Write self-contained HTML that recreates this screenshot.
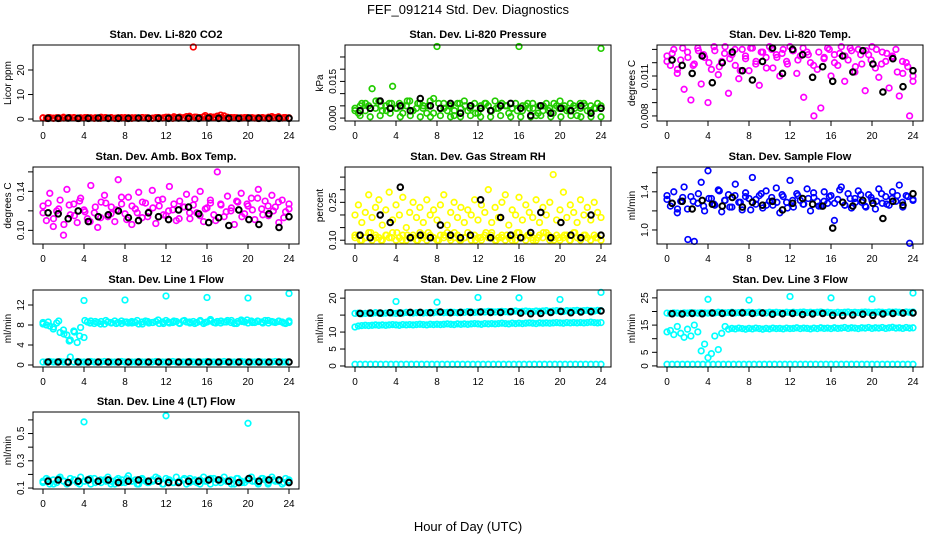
<!DOCTYPE html>
<html><head><meta charset="utf-8"><style>
html,body{margin:0;padding:0;background:#fff}
svg{display:block;font-family:"Liberation Sans",sans-serif}
</style></head><body>
<svg id="chart" width="936" height="540" viewBox="0 0 936 540">
<text x="468" y="14" text-anchor="middle" font-size="13">FEF_091214  Std. Dev. Diagnostics</text>
<text x="468" y="531" text-anchor="middle" font-size="13">Hour of Day (UTC)</text>
</svg>
<script>
const xTicks=[0,4,8,12,16,20,24];
// CO2
const co2Red=[0.5,0.3,0.6,0.4,0.5,0.3,0.7,0.4,0.5,0.6,0.3,0.5,0.4,0.6,0.5,0.3,0.4,0.7,0.5,0.4,0.6,0.3,0.5,0.4,0.6,0.5,0.3,0.5,0.4,0.6,0.5,0.4,0.3,0.6,0.5,0.4,0.7,0.5,0.3,0.6,0.8,0.5,1.0,0.6,29.4,0.7,0.5,0.9,0.6,0.5,0.8,1.2,1.6,1.3,0.7,0.5,0.6,0.4,0.5,0.6,0.3,0.5,0.4,0.6,0.5,0.4,0.7,1.0,0.6,0.5,0.4,0.6,0.5];
const co2Red2=[0.4,0.6,0.3,0.5,0.4,0.6,0.5,0.3,0.6,0.4,0.5,0.3,0.6,0.5,0.4,0.6,0.3,0.5,0.4,0.6,0.5,0.4,0.6,0.5,0.7,0.9,0.6,0.5,1.1,0.8,0.6,1.4,0.9,0.6,0.5,0.4,0.6,0.5,0.4,0.6,0.5,0.3,0.6,0.4,0.5,0.9,0.6,0.4];
const co2Black=[0.3,0.3,0.4,0.3,0.3,0.4,0.3,0.3,0.3,0.4,0.3,0.3,0.3,0.4,0.3,0.3,0.4,0.3,0.3,0.3,0.4,0.3,0.3,0.3,0.3];
// Pressure
const presGreen=[0.004,0.002,0.006,0.003,0.005,0.012,0.004,0.007,0.003,0.005,0.006,0.013,0.004,0.006,0.002,0.005,0.007,0.003,0.004,0.006,0.005,0.002,0.007,0.008,0.0293,0.004,0.006,0.003,0.005,0.001,0.006,0.004,0.007,0.003,0.005,0.006,0.002,0.004,0.006,0.005,0.003,0.007,0.004,0.006,0.005,0.002,0.004,0.006,0.0293,0.003,0.005,0.004,0.006,0.001,0.005,0.003,0.006,0.004,0.002,0.005,0.007,0.004,0.003,0.006,0.005,0.001,0.004,0.006,0.003,0.005,0.004,0.006,0.0285];
const presGreen2=[0.003,0.005,0.006,0.004,0.007,0.005,0.003,0.006,0.004,0.005,0.007,0.003,0.006,0.004,0.005,0.002,0.006,0.004,0.005,0.003,0.006,0.005,0.004,0.002,0.005,0.006,0.003,0.004,0.006,0.005,0.004,0.003,0.005,0.006,0.004,0.002,0.005,0.003,0.006,0.004,0.005,0.003,0.004,0.006,0.005,0.003,0.004,0.005];
const presGreenLow=[0.001,0.0005,0.001,0.002,0.0005,0.001,0.0005,0.0005,0.001,0.0005,0.0005,0.001,0.0005,0.0005,0.001,0.0005,0.0005,0.0005,0.001,0.0005,0.0005,0.001,0.0005,0.0005,0.0005];
const presBlack=[0.003,0.004,0.007,0.004,0.005,0.003,0.008,0.005,0.004,0.006,0.002,0.005,0.004,0.003,0.005,0.006,0.004,0.001,0.005,0.002,0.004,0.003,0.005,0.002,0.004];
// Li-820 temp
const tempMag=[0.0125,0.0118,0.0130,0.0112,0.0122,0.0100,0.0128,0.0092,0.0119,0.0131,0.0104,0.0124,0.0090,0.0115,0.0129,0.0111,0.0121,0.0132,0.0097,0.0126,0.0118,0.0108,0.0130,0.0123,0.0114,0.0131,0.0119,0.0103,0.0128,0.0124,0.0132,0.0116,0.0126,0.0110,0.0130,0.0121,0.0132,0.0129,0.0112,0.0125,0.0094,0.0128,0.0120,0.0080,0.0115,0.0086,0.0124,0.0131,0.0110,0.0126,0.0118,0.0132,0.0106,0.0122,0.0129,0.0113,0.0130,0.0119,0.0099,0.0126,0.0132,0.0116,0.0109,0.0128,0.0121,0.0101,0.0125,0.0130,0.0095,0.0112,0.0120,0.0080,0.0106];
const tempMag2=[0.0121,0.0127,0.0115,0.0131,0.0124,0.0118,0.0129,0.0126,0.0120,0.0132,0.0117,0.0127,0.0123,0.0130,0.0114,0.0125,0.0131,0.0121,0.0128,0.0116,0.0130,0.0124,0.0127,0.0119,0.0129,0.0122,0.0131,0.0126,0.0118,0.0128,0.0123,0.0130,0.0120,0.0127,0.0125,0.0131,0.0117,0.0126,0.0129,0.0122,0.0130,0.0119,0.0127,0.0124,0.0113,0.0121,0.0117,0.0110];
const tempBlack=[0.0122,0.0118,0.0112,0.0125,0.0105,0.0120,0.0128,0.0114,0.0107,0.0121,0.0131,0.0112,0.0130,0.0126,0.0109,0.0117,0.0106,0.0125,0.0113,0.0129,0.0119,0.0098,0.0123,0.0102,0.0114];
// Amb box temp
const ambMag=[0.125,0.110,0.138,0.104,0.120,0.131,0.095,0.142,0.116,0.127,0.108,0.133,0.121,0.112,0.146,0.118,0.103,0.129,0.136,0.114,0.124,0.109,0.152,0.127,0.117,0.134,0.106,0.122,0.139,0.113,0.128,0.119,0.141,0.107,0.125,0.132,0.115,0.145,0.121,0.110,0.130,0.124,0.137,0.112,0.126,0.118,0.140,0.109,0.123,0.131,0.116,0.160,0.127,0.114,0.135,0.120,0.106,0.129,0.138,0.117,0.125,0.133,0.111,0.142,0.122,0.130,0.115,0.136,0.124,0.108,0.131,0.119,0.127];
const ambMag2=[0.118,0.128,0.112,0.122,0.106,0.126,0.115,0.130,0.119,0.109,0.124,0.113,0.128,0.117,0.121,0.134,0.111,0.125,0.118,0.129,0.114,0.123,0.131,0.116,0.120,0.127,0.112,0.124,0.118,0.132,0.115,0.122,0.128,0.110,0.126,0.119,0.123,0.130,0.114,0.127,0.121,0.133,0.116,0.125,0.120,0.129,0.113,0.122];
const ambBlack=[0.118,0.117,0.112,0.120,0.109,0.114,0.116,0.120,0.113,0.110,0.118,0.114,0.111,0.121,0.124,0.117,0.108,0.113,0.105,0.121,0.111,0.106,0.117,0.103,0.114];
// RH
const rhLow=[0.11,0.12,0.10,0.11,0.13,0.10,0.12,0.11,0.10,0.12,0.11,0.13,0.10,0.11,0.12,0.10,0.11,0.12,0.10,0.13,0.11,0.10,0.12,0.11,0.10,0.12,0.11,0.13,0.10,0.11,0.12,0.10,0.11,0.13,0.10,0.12,0.11,0.10,0.12,0.11,0.13,0.10,0.11,0.12,0.10,0.11,0.12,0.10,0.13,0.11,0.10,0.12,0.11,0.10,0.12,0.11,0.13,0.10,0.11,0.12,0.10,0.11,0.12,0.10,0.13,0.11,0.10,0.12,0.11,0.10,0.12,0.11,0.10];
const rhLow2=[0.12,0.10,0.11,0.13,0.11,0.10,0.12,0.11,0.13,0.10,0.12,0.11,0.10,0.12,0.13,0.11,0.10,0.12,0.11,0.13,0.10,0.11,0.12,0.10,0.11,0.13,0.12,0.10,0.11,0.12,0.10,0.13,0.11,0.12,0.10,0.11,0.13,0.12,0.10,0.11,0.12,0.10,0.13,0.11,0.12,0.10,0.11,0.12];
const rhHigh=[0.20,0.24,0.17,0.21,0.28,0.19,0.23,0.26,0.16,0.22,0.29,0.18,0.24,0.20,0.27,0.15,0.21,0.25,0.19,0.23,0.17,0.26,0.20,0.22,0.18,0.24,0.28,0.16,0.21,0.25,0.19,0.23,0.17,0.22,0.20,0.26,0.18,0.24,0.21,0.30,0.17,0.23,0.19,0.25,0.28,0.16,0.22,0.20,0.27,0.18,0.24,0.21,0.19,0.26,0.17,0.23,0.20,0.25,0.36,0.18,0.22,0.29,0.19,0.24,0.21,0.17,0.26,0.20,0.23,0.18,0.25,0.21,0.19];
const rhBlack=[0.12,0.11,0.20,0.17,0.31,0.11,0.12,0.11,0.16,0.12,0.11,0.12,0.26,0.11,0.19,0.12,0.11,0.13,0.21,0.11,0.17,0.12,0.11,0.20,0.12];
// Sample flow
const flowBlue=[1.32,1.25,1.40,1.18,1.30,1.45,1.22,1.35,0.88,1.28,1.50,1.20,1.62,1.33,1.26,1.42,1.19,1.31,1.37,1.24,1.48,1.29,1.21,1.39,1.33,1.55,1.27,1.36,1.23,1.41,1.30,1.26,1.44,1.18,1.35,1.29,1.52,1.24,1.38,1.31,1.27,1.43,1.20,1.34,1.30,1.25,1.40,1.28,1.36,1.10,1.32,1.45,1.26,1.38,1.23,1.33,1.41,1.29,1.25,1.37,1.31,1.22,1.43,1.28,1.35,1.26,1.40,1.30,1.47,1.24,1.36,0.86,1.32];
const flowBlue2=[1.36,1.28,1.22,1.34,0.90,1.30,1.38,1.25,1.33,1.27,1.41,1.31,1.24,1.36,1.29,1.35,1.21,1.32,1.38,1.26,1.34,1.29,1.37,1.23,1.31,1.36,1.27,1.33,1.39,1.25,1.30,1.35,1.28,1.42,1.26,1.33,1.29,1.37,1.24,1.34,1.30,1.38,1.27,1.33,1.36,1.29,1.35,1.31];
const flowBlack=[1.28,1.30,1.22,1.31,1.27,1.25,1.34,1.24,1.29,1.26,1.30,1.21,1.28,1.33,1.27,1.25,1.02,1.29,1.25,1.31,1.28,1.12,1.30,1.26,1.38];
// Line 1
const l1Band=[8.5,8.0,7.8,7.2,8.4,6.5,7.0,6.0,5.0,6.8,4.5,7.5,5.5,8.6,8.8,8.3,8.5,8.7,8.2,8.6,8.4,8.8,8.5,8.3,8.6,8.4,8.7,8.5,8.2,8.6,8.8,8.4,8.5,8.7,8.3,8.6,8.9,8.4,8.5,8.7,8.3,8.8,8.6,8.4,8.7,8.5,8.9,8.3,8.6,8.8,8.5,8.7,8.4,8.6,8.9,8.5,8.3,8.7,9.0,8.6,8.4,8.8,8.5,8.7,8.6,8.9,8.4,8.7,8.5,8.8,8.6,8.3,8.5];
const l1Band2=[8.2,8.6,7.6,8.8,6.2,4.8,6.6,5.8,8.9,8.4,8.7,8.2,8.9,8.5,8.3,8.8,8.6,8.4,8.9,8.2,8.7,8.5,9.0,8.3,8.6,8.8,8.4,8.9,8.6,8.3,8.7,8.5,9.1,8.4,8.8,8.6,8.9,8.3,8.7,9.0,8.5,8.8,8.4,8.9,8.6,8.7,8.4,8.8];
const l1Low=[0.6,0.6,0.7,0.6,0.6,0.7,0.6,0.6,1.6,0.6,0.7,0.6,0.6,0.6,0.7,0.6,0.6,0.6,0.7,0.6,0.6,0.6,0.6,0.7,0.6,0.6,0.6,0.6,0.7,0.6,0.6,0.6,0.6,0.7,0.6,0.6,0.6,0.6,0.7,0.6,0.6,0.6,0.6,0.7,0.6,0.6,0.6,0.6,0.7,0.6,0.6,0.6,0.6,0.7,0.6,0.6,0.6,0.6,0.7,0.6,0.6,0.6,0.6,0.7,0.6,0.6,0.6,0.6,0.7,0.6,0.6,0.6,0.6];
const l1OutHours=[4,8,12,16,20,24];
const l1Out=[12.9,13.0,13.8,13.5,13.4,14.3];
const l1Black=[0.6,0.6,0.6,0.6,0.6,0.6,0.6,0.6,0.6,0.6,0.6,0.6,0.6,0.6,0.6,0.6,0.6,0.6,0.6,0.6,0.6,0.6,0.6,0.6,0.6];
// Line 2
const l2Top=[15.5,15.6,15.4,15.5,15.6,15.5,15.7,15.6,15.5,15.6,15.7,15.6,15.5,15.7,15.6,15.8,15.7,15.6,15.7,15.8,15.6,15.7,15.8,15.7,15.9,15.8,15.7,15.8,15.9,15.8,15.7,15.9,15.8,16.0,15.9,15.8,15.9,16.0,15.9,16.1,16.0,15.9,16.0,16.1,16.0,15.9,16.1,16.2,16.0,16.1,16.2,16.1,16.0,16.2,16.1,16.2,16.3,16.1,16.2,16.3,16.2,16.1,16.3,16.2,16.3,16.4,16.2,16.3,16.4,16.3,16.2,16.4,16.3];
const l2Mid=[11.5,11.8,11.9,12.0,11.9,12.0,12.1,12.0,12.1,12.0,12.1,12.2,12.1,12.0,12.2,12.1,12.2,12.1,12.2,12.3,12.2,12.1,12.3,12.2,12.3,12.2,12.3,12.4,12.3,12.2,12.4,12.3,12.4,12.3,12.4,12.5,12.4,12.3,12.5,12.4,12.5,12.4,12.5,12.6,12.5,12.4,12.6,12.5,12.6,12.5,12.6,12.7,12.6,12.5,12.7,12.6,12.7,12.6,12.7,12.8,12.7,12.6,12.8,12.7,12.8,12.7,12.8,12.7,12.8,12.9,12.8,12.7,12.8];
const l2Low=[0.5,0.5,0.5,0.5,0.5,0.5,0.5,0.5,0.5,0.5,0.5,0.5,0.5,0.5,0.5,0.5,0.5,0.5,0.5,0.5,0.5,0.5,0.5,0.5,0.5,0.5,0.5,0.5,0.5,0.5,0.5,0.5,0.5,0.5,0.5,0.5,0.5,0.5,0.5,0.5,0.5,0.5,0.5,0.5,0.5,0.5,0.5,0.5,0.5];
const l2OutHours=[4,8,12,16,20,24];
const l2Out=[19.0,18.8,20.2,20.1,19.6,21.7];
const l2Black=[15.5,15.6,15.6,15.7,15.6,15.8,15.8,15.7,15.9,15.7,15.8,15.8,15.9,15.8,15.8,16.0,15.6,15.4,15.5,15.8,16.1,15.7,15.9,16.0,16.2];
// Line 3
const l3Top=[19.4,19.3,19.5,19.4,19.3,19.5,19.4,19.6,19.5,19.4,19.6,19.5,19.4,19.6,19.5,19.7,19.6,19.5,19.6,19.7,19.5,19.6,19.7,19.6,19.7,19.6,19.5,19.7,19.6,19.5,19.7,19.6,19.7,19.6,19.5,19.7,19.6,19.7,19.6,19.7,19.8,19.6,19.7,19.6,19.7,19.8,19.6,19.7,19.6,19.5,19.7,19.6,19.7,19.8,19.6,19.7,19.6,19.7,19.8,19.7,19.6,19.7,19.8,19.7,19.6,19.8,19.7,19.8,19.7,19.6,19.8,19.7,19.8];
const l3Mid=[12.5,13.0,11.5,14.5,12.0,10.5,13.5,11.0,15.0,12.5,5.5,8.0,3.0,4.5,11.0,6.0,12.0,14.5,13.5,13.8,13.6,13.9,13.7,13.5,13.8,13.6,13.9,13.7,13.5,13.8,13.6,13.9,13.7,13.8,13.6,13.9,13.7,13.8,14.0,13.7,13.9,13.8,13.6,13.9,13.7,14.0,13.8,13.9,13.7,14.0,13.8,13.9,14.1,13.8,14.0,13.9,13.7,14.0,13.9,14.1,13.8,14.0,13.9,14.1,13.8,14.0,14.2,13.9,14.0,13.8,14.1,13.9,14.0];
const l3Low=[0.6,0.6,0.6,0.6,0.6,0.6,0.6,0.6,0.6,0.6,0.6,0.6,0.6,0.6,0.6,0.6,0.6,0.6,0.6,0.6,0.6,0.6,0.6,0.6,0.6,0.6,0.6,0.6,0.6,0.6,0.6,0.6,0.6,0.6,0.6,0.6,0.6,0.6,0.6,0.6,0.6,0.6,0.6,0.6,0.6,0.6,0.6,0.6,0.6];
const l3OutHours=[4,8,12,16,20,24];
const l3Out=[24.5,24.2,25.5,25.0,24.6,26.8];
const l3Black=[19.2,19.1,19.3,19.2,19.4,19.3,19.4,19.5,19.3,19.4,19.0,19.2,19.3,18.9,19.1,19.3,18.6,18.5,18.7,19.0,18.6,19.1,19.3,19.4,19.5];
// Line 4
const l4Band=[0.15,0.17,0.13,0.16,0.14,0.18,0.15,0.13,0.17,0.16,0.14,0.18,0.15,0.16,0.13,0.17,0.15,0.14,0.16,0.18,0.15,0.13,0.17,0.16,0.14,0.19,0.15,0.16,0.13,0.17,0.15,0.14,0.16,0.18,0.15,0.13,0.17,0.16,0.14,0.18,0.15,0.16,0.13,0.17,0.15,0.14,0.16,0.18,0.15,0.13,0.17,0.16,0.14,0.18,0.15,0.16,0.13,0.17,0.15,0.14,0.16,0.18,0.15,0.13,0.17,0.16,0.14,0.18,0.15,0.16,0.13,0.17,0.15];
const l4Band2=[0.14,0.16,0.13,0.17,0.15,0.14,0.16,0.13,0.15,0.17,0.14,0.16,0.15,0.13,0.16,0.14,0.17,0.15,0.13,0.16,0.14,0.15,0.17,0.13,0.16,0.14,0.15,0.17,0.14,0.16,0.13,0.15,0.17,0.14,0.16,0.15,0.13,0.17,0.14,0.16,0.15,0.14,0.17,0.13,0.16,0.15,0.14,0.16];
const l4OutHours=[4,12,20];
const l4Out=[0.585,0.63,0.575];
const l4Black=[0.15,0.16,0.14,0.15,0.16,0.15,0.16,0.14,0.15,0.16,0.15,0.15,0.14,0.14,0.15,0.15,0.16,0.16,0.15,0.14,0.17,0.15,0.16,0.16,0.14];

const BL='#000',RED='#ff0000',GRN='#22cc00',MAG='#ff00ff',YEL='#ffff00',BLU='#0000ff',CYN='#00ffff';
const panels=[
 {name:'co2',title:'Stan. Dev. Li-820 CO2',ylab:'Licor ppm',row:0,col:0,ylim:[-0.8,30.2],ticks:[0,10,20],labels:[0,10,20],
  series:[[co2Red,RED],[co2Red2,RED],[co2Black,BL,1]]},
 {name:'pressure',title:'Stan. Dev. Li-820 Pressure',ylab:'kPa',row:0,col:1,ylim:[-0.0012,0.0299],ticks:[0,0.005,0.01,0.015,0.02,0.025],labels:['0.000',null,null,'0.015',null,null],
  series:[[presGreen,GRN],[presGreen2,GRN],[presGreenLow,GRN,1],[presBlack,BL,1]]},
 {name:'li820-temp',title:'Stan. Dev. Li-820 Temp.',ylab:'degrees C',row:0,col:2,ylim:[0.00762,0.01333],ticks:[0.008,0.009,0.010,0.011,0.012,0.013],labels:['0.008',null,null,'0.011',null,null],
  series:[[tempMag,MAG],[tempMag2,MAG],[tempBlack,BL,1]]},
 {name:'amb-box-temp',title:'Stan. Dev. Amb. Box Temp.',ylab:'degrees C',row:1,col:0,ylim:[0.086,0.165],ticks:[0.10,0.12,0.14,0.16],labels:['0.10',null,'0.14',null],
  series:[[ambMag,MAG],[ambMag2,MAG],[ambBlack,BL,1]]},
 {name:'gas-stream-rh',title:'Stan. Dev. Gas Stream RH',ylab:'percent',row:1,col:1,ylim:[0.085,0.39],ticks:[0.10,0.15,0.20,0.25,0.30,0.35],labels:['0.10',null,null,'0.25',null,null],
  series:[[rhLow,YEL],[rhLow2,YEL],[rhHigh,YEL],[rhBlack,BL,1]]},
 {name:'sample-flow',title:'Stan. Dev. Sample Flow',ylab:'ml/min',row:1,col:2,ylim:[0.853,1.66],ticks:[1.0,1.2,1.4,1.6],labels:['1.0',null,'1.4',null],
  series:[[flowBlue,BLU],[flowBlue2,BLU],[flowBlack,BL,1]]},
 {name:'line1-flow',title:'Stan. Dev. Line 1 Flow',ylab:'ml/min',row:2,col:0,ylim:[-0.4,15],ticks:[0,4,8,12],labels:[0,4,8,12],
  series:[[l1Band,CYN],[l1Band2,CYN],[l1Low,CYN],[l1Black,BL,1],[l1Out,CYN,0,l1OutHours]]},
 {name:'line2-flow',title:'Stan. Dev. Line 2 Flow',ylab:'ml/min',row:2,col:1,ylim:[-0.3,22.4],ticks:[0,5,10,15,20],labels:[0,5,10,null,20],
  series:[[l2Top,CYN],[l2Mid,CYN],[l2Low,CYN],[l2Black,BL,1],[l2Out,CYN,0,l2OutHours]]},
 {name:'line3-flow',title:'Stan. Dev. Line 3 Flow',ylab:'ml/min',row:2,col:2,ylim:[-0.4,27.9],ticks:[0,5,10,15,20,25],labels:[0,5,null,15,null,25],
  series:[[l3Top,CYN],[l3Mid,CYN],[l3Low,CYN],[l3Black,BL,1],[l3Out,CYN,0,l3OutHours]]},
 {name:'line4-flow',title:'Stan. Dev. Line 4 (LT) Flow',ylab:'ml/min',row:3,col:0,ylim:[0.093,0.658],ticks:[0.1,0.2,0.3,0.4,0.5,0.6],labels:['0.1',null,'0.3',null,'0.5',null],
  series:[[l4Band,CYN],[l4Band2,CYN],[l4Black,BL,1],[l4Out,CYN,0,l4OutHours]]}
];
const svg=document.getElementById('chart');
const NS='http://www.w3.org/2000/svg';
function mk(tag,attrs,parent){const e=document.createElementNS(NS,tag);for(const k in attrs)e.setAttribute(k,attrs[k]);(parent||svg).appendChild(e);return e;}
const rowTop=[45,167,290,412],rowBot=[121,244,367,489];
panels.forEach(p=>{
 const off=p.col*312, L=33+off, R=299+off, T=rowTop[p.row], B=rowBot[p.row];
 const xs=h=>43+off+h*(246/24);
 const ys=v=>B-(v-p.ylim[0])/(p.ylim[1]-p.ylim[0])*(B-T);
 const g=mk('g',{});
 
 
 const t=mk('text',{x:(L+R)/2,y:T-7,'text-anchor':'middle','font-size':'11','font-weight':'bold'},g);
 t.textContent=p.title;
 
 
 const yl=mk('text',{x:0,y:0,'text-anchor':'middle','font-size':'10',transform:`translate(${off+11},${(T+B)/2}) rotate(-90)`},g);
 yl.textContent=p.ylab;
 
 
 p.series.forEach(s=>{
  const vals=s[0],col=s[1],isBlack=s[2],hrs=s[3];
  vals.forEach((v,i)=>{
   const h=hrs?hrs[i]:(isBlack?0.5+i*23.5/(vals.length-1):i*24/(vals.length-1));
   const c=mk('circle',{cx:xs(h).toFixed(1),cy:ys(v).toFixed(1),r:2.8,fill:'none',stroke:col,'stroke-width':col===BL?2:1.7},g);
   
   
  });
 });
 const box=mk('rect',{x:L,y:T,width:R-L,height:B-T,fill:'none',stroke:'#000','stroke-width':1},g);
 
 
 p.ticks.forEach((tv,i)=>{
  const y=ys(tv);
  mk('line',{x1:L-5,x2:L,y1:y,y2:y,stroke:'#000'},g);
  if(p.labels[i]!==null){
   const tl=mk('text',{x:0,y:0,'text-anchor':'middle','font-size':'10',transform:`translate(${L-9},${y}) rotate(-90)`},g);
   tl.textContent=p.labels[i];
   
   
  }
 });
 xTicks.forEach(h=>{
  const x=xs(h);
  mk('line',{x1:x,x2:x,y1:B,y2:B+5,stroke:'#000'},g);
  const tl=mk('text',{x:x,y:B+18,'text-anchor':'middle','font-size':'10'},g);
  tl.textContent=h;
  
  
 });
});
</script>
</body></html>
